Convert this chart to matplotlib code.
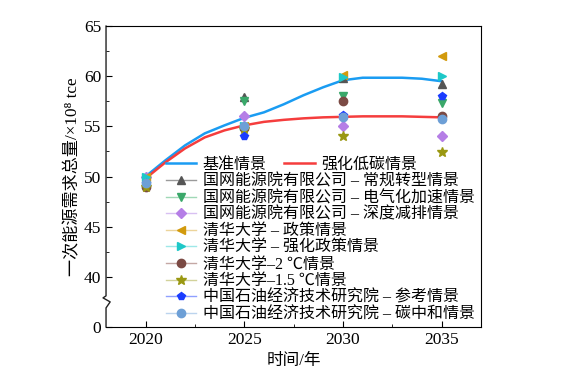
import matplotlib
matplotlib.use("Agg")
import matplotlib.pyplot as plt
import matplotlib.transforms as mtransforms
from matplotlib.lines import Line2D

plt.rcParams['font.family'] = ['Liberation Serif', 'Noto Sans CJK SC']
plt.rcParams['axes.unicode_minus'] = False

# smooth scenario curves (yearly readings)
line_years = list(range(2020, 2036))
base_vals = [50.0, 51.6, 53.1, 54.3, 55.1, 55.85, 56.4, 57.2, 58.1, 58.9,
             59.6, 59.85, 59.85, 59.85, 59.75, 59.5]
lowc_vals = [49.8, 51.4, 52.8, 53.9, 54.6, 55.1, 55.45, 55.65, 55.8, 55.9,
             55.95, 56.0, 56.0, 56.0, 55.95, 55.9]

# literature scenarios
pt_years = [2020, 2025, 2030, 2035]
sgeri_normal = [50.0, 57.9, 59.8, 59.2]
sgeri_elec = [49.9, 57.5, 58.0, 57.3]
sgeri_deep = [50.0, 56.0, 55.0, 54.0]
thu_policy = [50.0, 55.0, 60.1, 62.0]
thu_strong = [50.0, 55.0, 59.9, 60.0]
thu_2c = [49.0, 54.8, 57.5, 56.0]
thu_15c = [49.0, 54.7, 54.0, 52.4]
cnpc_ref = [49.4, 54.0, 56.1, 58.0]
cnpc_neutral = [49.4, 55.0, 55.9, 55.7]

labels = ['国网能源院有限公司 – 常规转型情景', '国网能源院有限公司 – 电气化加速情景',
          '国网能源院有限公司 – 深度减排情景', '清华大学 – 政策情景', '清华大学 – 强化政策情景',
          '清华大学–2 ℃情景', '清华大学–1.5 ℃情景',
          '中国石油经济技术研究院 – 参考情景', '中国石油经济技术研究院 – 碳中和情景']
series = [sgeri_normal, sgeri_elec, sgeri_deep, thu_policy, thu_strong,
          thu_2c, thu_15c, cnpc_ref, cnpc_neutral]
colors = ['#555555', '#3aa86a', '#b57ee6', '#d29a0c', '#1ec8c8',
          '#7b4a44', '#9a9812', '#1a3cff', '#6d9fd6']
light = ['#9a9a9a', '#9fd8b6', '#d8c0f2', '#ecd49a', '#9ee8e8',
         '#c4a8a4', '#d2d29a', '#8fa0ff', '#bcd4ee']
markers = ['^', 'v', 'D', '<', '>', 'o', '*', 'p', 'o']
msizes = [6, 6, 5, 6, 6, 6, 7, 6, 6]

fig = plt.figure(figsize=(5.64, 3.78), dpi=100)
ax = fig.add_axes([0.188, 0.135, 0.665, 0.796])

l1, = ax.plot(line_years, base_vals, color='#1a9cf2', lw=1.8, label='基准情景')
l2, = ax.plot(line_years, lowc_vals, color='#f53d3d', lw=1.8, label='强化低碳情景')

handles = []
for vals, c, lc, m, ms, lab in zip(series, colors, light, markers, msizes, labels):
    ax.plot(pt_years, vals, linestyle='none', marker=m, color=c, ms=ms, zorder=3)
    handles.append(Line2D([0], [0], color=lc, lw=1.0, marker=m, ms=ms,
                          markerfacecolor=c, markeredgecolor=c, label=lab))

ax.set_xlim(2018, 2037)
ax.set_ylim(35, 65)
ax.set_xticks([2020, 2025, 2030, 2035])
ax.set_xticks([2022.5, 2027.5, 2032.5], minor=True)
ax.set_yticks([35, 40, 45, 50, 55, 60, 65])
ax.set_yticklabels(['0', '40', '45', '50', '55', '60', '65'])
ax.set_yticks([42.5, 47.5, 52.5, 57.5, 62.5], minor=True)
ax.tick_params(which='both', direction='in', top=False, right=False, labelsize=12.5)
ax.tick_params(which='major', length=4)
ax.tick_params(which='minor', length=2.5)
ax.set_xlabel('时间/年', fontsize=12, labelpad=4)
ax.set_ylabel('一次能源需求总量/×10⁸ tce', fontsize=12.3, labelpad=2)

# broken left spine
ax.spines['left'].set_visible(False)
tr = mtransforms.blended_transform_factory(ax.transAxes, ax.transData)
ax.plot([0, 0, 0.011, -0.008, 0, 0], [35, 36.9, 37.5, 37.9, 38.1, 65],
        transform=tr, color='#222222', lw=1, clip_on=False)

leg1 = ax.legend(handles=[l1, l2], ncol=2, frameon=False, fontsize=11.5,
                 loc='upper left', bbox_to_anchor=(0.16, 0.565),
                 handlelength=1.9, handletextpad=0.4, columnspacing=1.1,
                 borderaxespad=0, borderpad=0)
ax.add_artist(leg1)
ax.legend(handles=handles, frameon=False, fontsize=11.5, loc='upper left',
          bbox_to_anchor=(0.16, 0.51), handlelength=1.9, handletextpad=0.4,
          labelspacing=0.04, borderaxespad=0, borderpad=0)

fig.savefig('out.png', dpi=100)
